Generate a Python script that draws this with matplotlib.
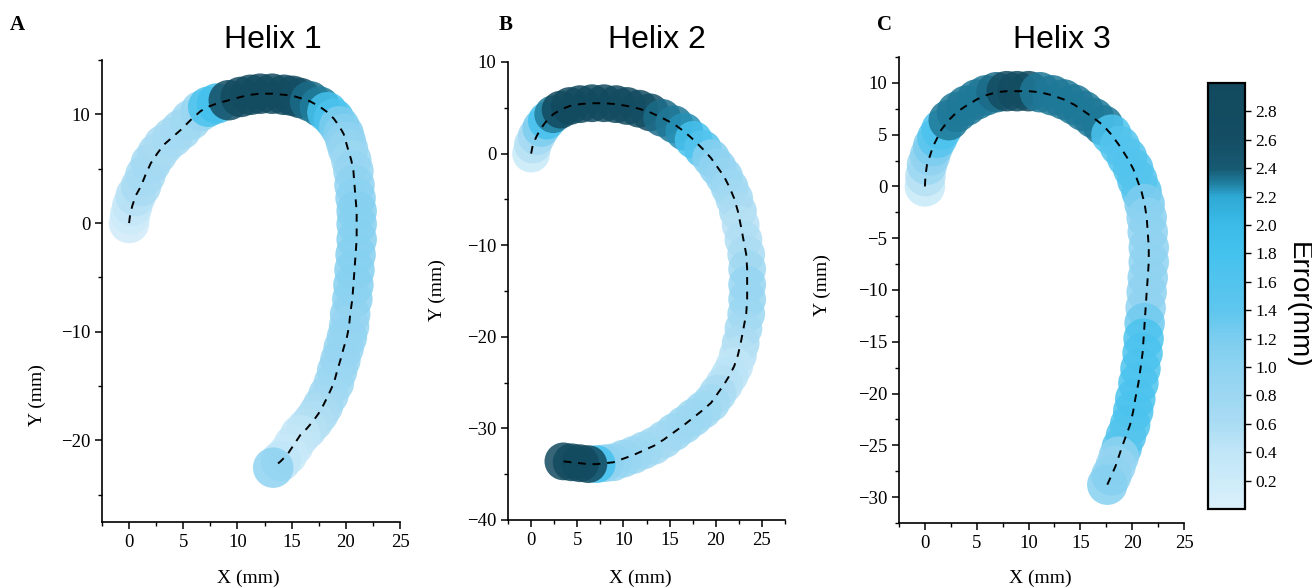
import matplotlib
matplotlib.use("Agg")
import matplotlib.pyplot as plt
from matplotlib.colors import LinearSegmentedColormap, Normalize
from matplotlib.ticker import MultipleLocator
import matplotlib.cm as cm

# path points (mm) and error (mm) per helix
h1_x = [0.0, 0.1, 0.3, 0.6, 1.1, 1.5, 2.0, 2.6, 3.2, 4.0, 4.8, 5.7, 6.6, 7.3, 8.1, 9.2,
        10.3, 11.2, 12.1, 13.2, 14.3, 15.1, 15.8, 16.7, 17.6, 18.3, 18.9, 19.4, 19.8, 20.0,
        20.2, 20.5, 20.7, 20.8, 20.9, 21.0, 21.0, 21.0, 20.9, 20.8, 20.7, 20.6, 20.4, 20.3,
        20.1, 19.8, 19.5, 19.2, 18.9, 18.4, 17.9, 17.5, 17.0, 16.4, 15.8, 15.2, 14.6, 14.0, 13.3]
h1_y = [0.0, 0.8, 1.6, 2.5, 3.4, 4.4, 5.5, 6.4, 7.2, 7.9, 8.6, 9.5, 10.3, 10.7, 11.0, 11.3,
        11.6, 11.8, 11.9, 11.9, 11.8, 11.7, 11.5, 11.2, 10.7, 10.2, 9.6, 8.9, 8.2, 7.5,
        6.8, 5.8, 4.8, 3.5, 2.3, 1.1, -0.1, -1.5, -2.9, -4.3, -5.7, -7.0, -8.4, -9.5,
        -10.5, -11.5, -12.6, -13.6, -14.7, -15.8, -16.8, -17.5, -18.2, -18.9, -19.5, -20.4, -21.3, -21.9, -22.5]
h1_err = [0.15, 0.2, 0.35, 0.5, 0.6, 0.65, 0.7, 0.65, 0.6, 0.65, 0.7, 0.75, 0.85, 1.7, 1.85, 2.6,
          2.85, 2.85, 2.85, 2.85, 2.85, 2.8, 2.6, 2.35, 2.3, 1.8, 1.7, 1.2, 1.1, 1.0,
          0.9, 0.8, 0.9, 1.0, 1.05, 1.1, 1.1, 1.1, 1.1, 1.1, 1.1, 1.05, 1.0, 0.9,
          0.95, 0.9, 0.9, 0.85, 0.8, 0.75, 0.7, 0.6, 0.55, 0.5, 0.4, 0.35, 0.3, 0.4, 1.0]

h2_x = [0.0, 0.2, 0.6, 1.1, 1.7, 2.4, 3.2, 4.2, 5.3, 6.6, 7.9, 9.2, 10.4, 11.7, 12.9, 14.2,
        15.5, 16.6, 17.6, 18.6, 19.5, 20.2, 20.9, 21.5, 22.0, 22.4, 22.7, 23.0, 23.3, 23.4,
        23.4, 23.4, 23.3, 23.0, 22.7, 22.4, 22.0, 21.5, 20.9, 20.2, 19.5, 18.6, 17.6, 16.6,
        15.5, 14.4, 13.3, 12.2, 11.1, 10.0, 8.9, 8.0, 7.1, 6.2, 5.3, 4.4, 3.5]
h2_y = [0.0, 1.0, 1.9, 2.8, 3.6, 4.3, 4.8, 5.2, 5.4, 5.5, 5.5, 5.4, 5.2, 4.9, 4.5, 3.9,
        3.2, 2.4, 1.5, 0.5, -0.5, -1.5, -2.5, -3.7, -4.9, -6.3, -7.8, -9.4, -11.0, -12.6,
        -14.3, -15.9, -17.5, -19.1, -20.7, -22.0, -23.2, -24.2, -25.2, -26.2, -27.2, -28.0, -28.8, -29.6,
        -30.4, -31.2, -31.9, -32.4, -32.9, -33.3, -33.7, -33.8, -33.9, -33.9, -33.8, -33.7, -33.6]
h2_err = [0.3, 0.5, 0.7, 1.2, 1.8, 2.3, 2.9, 2.9, 2.9, 2.9, 2.9, 2.9, 2.85, 2.8, 2.6, 2.35,
          2.32, 2.25, 1.8, 1.6, 1.1, 1.0, 0.9, 0.8, 0.7, 0.6, 0.5, 0.55, 0.6, 0.75,
          0.9, 0.85, 0.8, 0.7, 0.6, 0.5, 0.4, 0.45, 0.5, 0.6, 0.7, 0.75, 0.8, 0.8,
          0.8, 0.75, 0.7, 0.75, 0.8, 0.85, 0.9, 1.0, 1.8, 2.9, 2.9, 2.9, 2.9]

h3_x = [0.0, 0.05, 0.2, 0.5, 0.8, 1.2, 1.6, 2.3, 3.1, 4.0, 5.0, 5.9, 6.9, 7.9, 8.9, 10.0,
        11.1, 12.3, 13.4, 14.4, 15.3, 16.3, 17.2, 18.0, 18.8, 19.5, 20.1, 20.5, 20.9, 21.2,
        21.4, 21.5, 21.6, 21.6, 21.5, 21.4, 21.3, 21.2, 21.1, 21.0, 20.8, 20.6, 20.3, 20.1,
        19.8, 19.4, 19.0, 18.7, 18.4, 18.0, 17.6]
h3_y = [0.0, 1.0, 2.1, 3.0, 3.9, 4.7, 5.5, 6.4, 7.2, 7.8, 8.4, 8.8, 9.1, 9.2, 9.2, 9.2,
        9.1, 8.8, 8.4, 7.9, 7.3, 6.6, 5.9, 5.0, 3.9, 2.8, 1.7, 0.6, -0.5, -1.7,
        -3.0, -4.4, -5.9, -7.3, -8.8, -10.2, -11.7, -13.2, -14.7, -16.1, -17.6, -19.0, -20.5, -21.7,
        -23.0, -24.1, -25.2, -26.1, -27.0, -27.9, -28.8]
h3_err = [0.3, 0.5, 0.8, 1.0, 1.2, 1.5, 1.7, 2.32, 2.32, 2.32, 2.32, 2.32, 2.35, 2.7, 2.75, 2.7,
          2.32, 2.32, 2.32, 2.32, 2.32, 2.32, 2.32, 1.7, 1.6, 1.6, 1.6, 1.6, 1.5, 1.2,
          1.05, 1.0, 1.0, 1.0, 1.0, 1.0, 1.0, 1.3, 1.7, 1.7, 1.7, 1.7, 1.7, 1.7,
          1.7, 1.6, 1.5, 1.0, 0.9, 1.0, 1.1]

titles = ["Helix 1", "Helix 2", "Helix 3"]
letters = ["A", "B", "C"]
cbar_ticks = [0.2, 0.4, 0.6, 0.8, 1.0, 1.2, 1.4, 1.6, 1.8, 2.0, 2.2, 2.4, 2.6, 2.8]

stops = [(0.0, "#daf0fb"), (0.4, "#c0e6f7"), (0.6, "#aadcf3"), (1.0, "#8fd3f1"),
         (1.2, "#7ccdef"), (1.4, "#5ec6ee"), (1.8, "#45c2ee"), (2.0, "#3bbbe8"),
         (2.2, "#2fa9d6"), (2.3, "#1f7f9f"), (2.4, "#175a73"), (2.6, "#144e64"),
         (3.0, "#12495e")]
cmap = LinearSegmentedColormap.from_list("err", [(v / 3.0, c) for v, c in stops])
norm = Normalize(0, 3)

serif = "Liberation Serif"
sans = "Liberation Sans"

fig = plt.figure(figsize=(13.12, 5.88), dpi=100)
W, H = 1312, 588


def px_axes(l, t, r, b):
    return fig.add_axes([l / W, 1 - b / H, (r - l) / W, (b - t) / H])


panels = [
    dict(box=(102, 60, 400, 522), x=h1_x, y=h1_y, e=h1_err, xlim=(-2.5, 25), ylim=(-27.5, 15),
         ymaj=10, s=850, title=(273, 40), letter=(17, 25), xl=(248, 578), yl=(37, 395)),
    dict(box=(508, 62, 785, 520), x=h2_x, y=h2_y, e=h2_err, xlim=(-2.5, 27.5), ylim=(-40, 10),
         ymaj=10, s=740, title=(657, 40), letter=(506, 25), xl=(640, 578), yl=(437, 290)),
    dict(box=(899, 57, 1184, 523), x=h3_x, y=h3_y, e=h3_err, xlim=(-2.5, 25), ylim=(-32.5, 12.5),
         ymaj=5, s=850, title=(1062, 40), letter=(884, 25), xl=(1040, 578), yl=(822, 285)),
]

for i, p in enumerate(panels):
    ax = px_axes(*p["box"])
    ax.scatter(p["x"], p["y"], c=p["e"], cmap=cmap, norm=norm, s=p["s"],
               alpha=0.85, linewidths=0, zorder=2)
    ax.plot(p["x"], p["y"], color="black", linestyle=(0, (4, 3.5)), linewidth=1.4, zorder=3)
    ax.set_xlim(*p["xlim"])
    ax.set_ylim(*p["ylim"])
    ax.xaxis.set_major_locator(MultipleLocator(5))
    ax.xaxis.set_minor_locator(MultipleLocator(2.5))
    ax.yaxis.set_major_locator(MultipleLocator(p["ymaj"]))
    ax.yaxis.set_minor_locator(MultipleLocator(p["ymaj"] / 2))
    for side in ["top", "right"]:
        ax.spines[side].set_visible(False)
    for side in ["left", "bottom"]:
        ax.spines[side].set_linewidth(1.2)
    ax.tick_params(which="major", direction="out", length=5, width=1.1, labelsize=13.5)
    ax.tick_params(which="minor", direction="out", length=3, width=1.0)
    for lab in ax.get_xticklabels() + ax.get_yticklabels():
        lab.set_fontfamily(serif)
    ax.patch.set_alpha(0)

    fig.text(p["title"][0] / W, 1 - p["title"][1] / H, titles[i], fontfamily=sans,
             fontsize=23, ha="center", va="center")
    fig.text(p["letter"][0] / W, 1 - p["letter"][1] / H, letters[i], fontfamily=serif,
             fontweight="bold", fontsize=15, ha="center", va="center")
    fig.text(p["xl"][0] / W, 1 - p["xl"][1] / H, "X (mm)", fontfamily=serif,
             fontsize=14, ha="center", va="center")
    fig.text(p["yl"][0] / W, 1 - p["yl"][1] / H, "Y (mm)", fontfamily=serif,
             fontsize=14, ha="center", va="center", rotation=90)

cax = px_axes(1208, 83, 1245, 509)
cb = fig.colorbar(cm.ScalarMappable(norm=norm, cmap=cmap), cax=cax, ticks=cbar_ticks)
cb.outline.set_linewidth(1.6)
cb.ax.tick_params(direction="out", length=4, width=1.0, labelsize=12.5)
cb.ax.set_yticklabels([f"{t:.1f}" for t in cbar_ticks], fontfamily=serif)
fig.text(1298 / W, 1 - 305 / H, "Error(mm)", fontfamily=sans, fontsize=20,
         rotation=270, ha="center", va="center")

fig.savefig("out.png", dpi=100)
